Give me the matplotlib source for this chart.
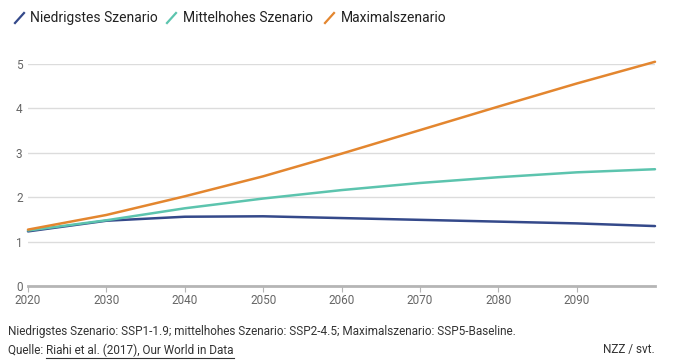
import matplotlib
matplotlib.use("Agg")
import matplotlib.pyplot as plt
from matplotlib.lines import Line2D

years = [2020, 2030, 2040, 2050, 2060, 2070, 2080, 2090, 2100]
niedrig = [1.23, 1.47, 1.56, 1.57, 1.53, 1.49, 1.45, 1.41, 1.35]
mittel = [1.25, 1.48, 1.75, 1.97, 2.16, 2.32, 2.45, 2.56, 2.63]
maximal = [1.27, 1.60, 2.02, 2.47, 2.98, 3.51, 4.04, 4.56, 5.05]
series_names = ["Niedrigstes Szenario", "Mittelhohes Szenario", "Maximalszenario"]
colors = ["#34498a", "#5cc4ae", "#e3862f"]
xticks = [2020, 2030, 2040, 2050, 2060, 2070, 2080, 2090]
yticks = [0, 1, 2, 3, 4, 5]

plt.rcParams['font.family'] = ['Roboto', 'DejaVu Sans']

W, H = 685, 363
fig = plt.figure(figsize=(W / 100, H / 100), dpi=100)
x0, x1 = 28, 655
y0, y5 = 286, 64
ax = fig.add_axes([x0 / W, 1 - y0 / H, (x1 - x0) / W, (y0 - y5) / H])

for vals, c in zip([niedrig, mittel, maximal], colors):
    ax.plot(years, vals, color=c, lw=1.8, clip_on=False, solid_capstyle='round', zorder=3)

ax.set_xlim(2020, 2100)
ax.set_ylim(0, 5)
ax.set_yticks(yticks)
ax.set_xticks(xticks)
ax.set_xticklabels([str(x) for x in xticks])
ax.set_yticklabels([str(y) for y in yticks])
for s in ['top', 'right', 'left']:
    ax.spines[s].set_visible(False)
ax.spines['bottom'].set_color('#b5b5b5')
ax.spines['bottom'].set_linewidth(2.0)
ax.grid(axis='y', color='#dcdcdc', lw=1.0)
ax.set_axisbelow(True)
ax.tick_params(axis='y', length=0, pad=12, labelsize=8.5, labelcolor='#666666')
ax.tick_params(axis='x', length=4, width=0.8, color='#b5b5b5', pad=2, labelsize=8.5, labelcolor='#666666')
for lab in ax.get_yticklabels():
    lab.set_horizontalalignment('left')
ax.yaxis.set_tick_params(pad=12)
# shift ytick labels to left-aligned at x~16
import matplotlib.transforms as mtransforms
offset = mtransforms.ScaledTranslation(-(x0 - 16) / 100 + 12 / 72, 0, fig.dpi_scale_trans)
for lab in ax.get_yticklabels():
    lab.set_transform(lab.get_transform() + offset)

# Legend (manual)
legend_items = [(15, 30), (167, 183), (325, 341)]
for (ix, tx), name, c in zip(legend_items, series_names, colors):
    fig.add_artist(Line2D([ix / W, (ix + 9) / W], [1 - 23 / H, 1 - 13 / H],
                          color=c, lw=1.6, transform=fig.transFigure))
    fig.text(tx / W, 1 - 18 / H, name, fontsize=10, color='#222222', va='center', ha='left')

# Footer
fig.text(8 / W, 1 - 331 / H,
         "Niedrigstes Szenario: SSP1-1.9; mittelhohes Szenario: SSP2-4.5; Maximalszenario: SSP5-Baseline.",
         fontsize=8.5, color='#333333', va='center', ha='left')
t1 = fig.text(8 / W, 1 - 350 / H, "Quelle: ", fontsize=8.5, color='#333333', va='center', ha='left')
fig.canvas.draw()
r = fig.canvas.get_renderer()
bb = t1.get_window_extent(r)
t2 = fig.text(bb.x1 / W, 1 - 350 / H, "Riahi et al. (2017), Our World in Data",
              fontsize=8.5, color='#333333', va='center', ha='left')
fig.canvas.draw()
bb2 = t2.get_window_extent(r)
fig.add_artist(Line2D([bb2.x0 / W, bb2.x1 / W], [(bb2.y0 - 1) / H, (bb2.y0 - 1) / H],
                      color='#333333', lw=0.8, transform=fig.transFigure))
fig.text(655 / W, 1 - 350 / H, "NZZ / svt.", fontsize=8.5, color='#333333', va='center', ha='right')

fig.savefig("out.png", dpi=100, facecolor='white')
